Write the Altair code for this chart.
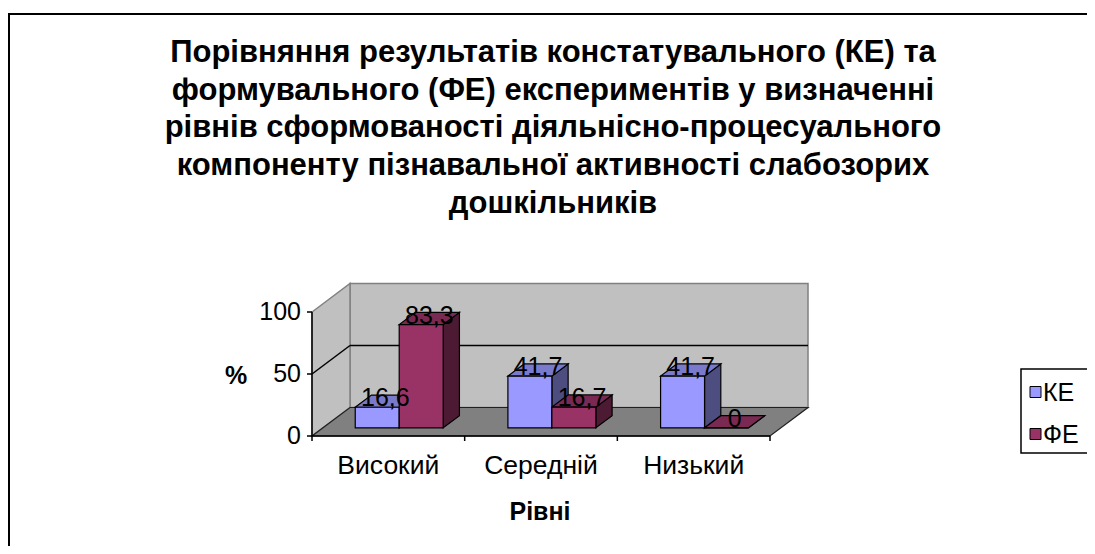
import altair as alt
import pandas as pd

# ---------------- data ----------------
categories = ["Високий", "Середній", "Низький"]
series = ["КЕ", "ФЕ"]
ke_values = [16.6, 41.7, 41.7]
fe_values = [83.3, 16.7, 0]
y_ticks = [0, 50, 100]
title_lines = [
    "Порівняння результатів констатувального (КЕ) та",
    "формувального (ФЕ) експериментів у визначенні",
    "рівнів сформованості діяльнісно-процесуального",
    "компоненту пізнавальної активності слабозорих",
    "дошкільників",
]
x_title = "Рівні"
y_title = "%"

# ---------------- styles / layout ----------------
front_colors = ["#9999FF", "#993366"]
top_colors = ["#7A7ACC", "#7A2952"]
side_colors = ["#4D4D80", "#4D1A33"]
FONT = "Liberation Sans"

W, H = 1079, 538
PX_X = 152.67          # px per category unit
PX_Y = 1.24            # px per value unit
OX, OY = 304, 428      # svg position of (x=0, value=0)
XDOM = [-OX / PX_X, (W - OX) / PX_X]
YDOM = [-(H - OY) / PX_Y, OY / PX_Y]
D = 38 / PX_X          # depth offset in x units
E = 28.5 / PX_Y        # depth offset in value units
GAP, BW = 0.212, 0.288
F0, F1 = 0.286, 0.714
BDX, BDY = (F1 - F0) * D, (F1 - F0) * E
NC = len(categories)

xs = alt.Scale(domain=XDOM, nice=False, zero=False)
ys = alt.Scale(domain=YDOM, nice=False, zero=False)


def X(f):
    return alt.X(f, type="quantitative", scale=xs, axis=None)


def Y(f):
    return alt.Y(f, type="quantitative", scale=ys, axis=None)


values = {series[0]: ke_values, series[1]: fe_values}

fronts, tops, sides, labels = [], [], [], []
for ci, cat in enumerate(categories):
    for si, s in enumerate(series):
        v = values[s][ci]
        x0 = ci + GAP + si * BW + F0 * D
        x1 = x0 + BW
        base = F0 * E
        top = base + v
        pid = f"{ci}-{si}"
        fronts.append(dict(series=s, x0=x0, x1=x1, lo=base, hi=top))
        for xx, lo, hi in [(x0, top, top), (x0 + BDX, top, top + BDY),
                           (x1, top, top + BDY), (x1 + BDX, top + BDY, top + BDY)]:
            tops.append(dict(series=s, pid=pid, x=xx, lo=lo, hi=hi))
        for xx, lo, hi in [(x1, base, top), (x1 + BDX, base + BDY, top + BDY)]:
            sides.append(dict(series=s, pid=pid, x=xx, lo=lo, hi=hi))
        lab = f"{v}".replace(".", ",") if v != 0 else "0"
        labels.append(dict(series=s, x=(x0 + x1) / 2 + BDX / 2, y=top, label=lab))

fronts = pd.DataFrame(fronts)
tops = pd.DataFrame(tops)
sides = pd.DataFrame(sides)
labels = pd.DataFrame(labels)

one = alt.Data(values=[{}])

# walls & floor
back_wall = alt.Chart(pd.DataFrame([dict(x0=D, x1=NC + D, lo=E, hi=100 + E)])).mark_rect(
    fill="#C0C0C0", stroke="#808080", strokeWidth=1.5
).encode(x=X("x0"), x2="x1", y=Y("lo"), y2="hi")

left_wall = alt.Chart(pd.DataFrame([dict(x=0, lo=0, hi=100), dict(x=D, lo=E, hi=100 + E)])).mark_area(
    fill="#C0C0C0", stroke="#808080", strokeWidth=1.5, orient="vertical"
).encode(x=X("x"), y=Y("lo"), y2="hi")

floor = alt.Chart(pd.DataFrame([
    dict(x=0, lo=0, hi=0), dict(x=D, lo=0, hi=E),
    dict(x=NC, lo=0, hi=E), dict(x=NC + D, lo=E, hi=E)])).mark_area(
    fill="#808080", stroke="#202020", strokeWidth=1.2, orient="vertical"
).encode(x=X("x"), y=Y("lo"), y2="hi")

grid_vals = [t for t in y_ticks if 0 < t < max(y_ticks)]
grid_rows = []
for t in grid_vals:
    grid_rows.append(dict(x=0, x2=D, y=t, y2=t + E))
    grid_rows.append(dict(x=D, x2=NC + D, y=t + E, y2=t + E))
grid = alt.Chart(pd.DataFrame(grid_rows)).mark_rule(color="black", strokeWidth=1.5).encode(
    x=X("x"), x2="x2", y=Y("y"), y2="y2")

# axes
y_axis_line = alt.Chart(pd.DataFrame([dict(x=0, y=0, y2=max(y_ticks))])).mark_rule(
    color="black", strokeWidth=1.5).encode(x=X("x"), y=Y("y"), y2="y2")
x_axis_line = alt.Chart(pd.DataFrame([dict(x=0, x2=NC, y=0)])).mark_rule(
    color="black", strokeWidth=1.5).encode(x=X("x"), x2="x2", y=Y("y"))
TLX = 5 / PX_X
TLY = 5 / PX_Y
y_tick_marks = alt.Chart(pd.DataFrame([dict(x=-TLX, x2=0, y=t) for t in y_ticks])).mark_rule(
    color="black", strokeWidth=1.5).encode(x=X("x"), x2="x2", y=Y("y"))
x_tick_marks = alt.Chart(pd.DataFrame([dict(x=i, y=0, y2=-TLY) for i in range(NC + 1)])).mark_rule(
    color="black", strokeWidth=1.5).encode(x=X("x"), y=Y("y"), y2="y2")
y_tick_labels = alt.Chart(pd.DataFrame([dict(x=0, y=t, t=str(t)) for t in y_ticks])).mark_text(
    font=FONT, fontSize=25, align="right", baseline="middle", dx=-11, color="black"
).encode(x=X("x"), y=Y("y"), text="t:N")
x_tick_labels = alt.Chart(pd.DataFrame([dict(x=i + 0.5, y=0, t=c) for i, c in enumerate(categories)])).mark_text(
    font=FONT, fontSize=26.5, align="center", baseline="middle", dy=30, color="black"
).encode(x=X("x"), y=Y("y"), text="t:N")

# bars
side_layer = alt.Chart(sides).mark_area(stroke="black", strokeWidth=1.2, orient="vertical").encode(
    x=X("x"), y=Y("lo"), y2="hi",
    fill=alt.Fill("series:N", scale=alt.Scale(domain=series, range=side_colors), legend=None),
    detail="pid:N")
top_layer = alt.Chart(tops).mark_area(stroke="black", strokeWidth=1.2, orient="vertical").encode(
    x=X("x"), y=Y("lo"), y2="hi",
    color=alt.Color("series:N", scale=alt.Scale(domain=series, range=top_colors), legend=None),
    detail="pid:N")
front_layer = alt.Chart(fronts).mark_rect(stroke="black", strokeWidth=1.2).encode(
    x=X("x0"), x2="x1", y=Y("lo"), y2="hi",
    stroke=alt.value("black"),
    opacity=alt.value(1),
    size=alt.value(1),
).encode(
    fill=alt.Fill("series:N", scale=alt.Scale(domain=series, range=front_colors), legend=None))
value_labels = alt.Chart(labels).mark_text(
    font=FONT, fontSize=25, align="center", baseline="alphabetic", dy=-1, color="black"
).encode(x=X("x"), y=Y("y"), text="label:N")

# legend (manual, Excel-like box)
legend_box = alt.Chart(one).mark_rect(fill="white", stroke="black", strokeWidth=1.5).encode(
    x=alt.value(1013), x2=alt.value(1200), y=alt.value(361), y2=alt.value(445))
legend_layers = [legend_box]
for i, s in enumerate(series):
    cy = 384 + i * 42
    legend_layers.append(alt.Chart(one).mark_rect(stroke="black", strokeWidth=1).encode(
        x=alt.value(1022), x2=alt.value(1033), y=alt.value(cy - 5.5), y2=alt.value(cy + 5.5),
        fill=alt.value(front_colors[i])))
    legend_layers.append(alt.Chart(one).mark_text(
        font=FONT, fontSize=25, align="left", baseline="middle", color="black").encode(
        x=alt.value(1035), y=alt.value(cy + 1), text=alt.value(s)))

# texts
title = alt.Chart(one).mark_text(
    font=FONT, fontSize=31, fontWeight="bold", align="center", baseline="alphabetic",
    lineHeight=37.7, color="black"
).encode(x=alt.value(545), y=alt.value(54), text=alt.value(title_lines))
ytitle = alt.Chart(one).mark_text(
    font=FONT, fontSize=25, fontWeight="bold", align="center", baseline="middle", color="black"
).encode(x=alt.value(228), y=alt.value(368), text=alt.value(y_title))
xtitle = alt.Chart(one).mark_text(
    font=FONT, fontSize=25, fontWeight="bold", align="center", baseline="middle", color="black"
).encode(x=alt.value(532), y=alt.value(504), text=alt.value(x_title))
border = alt.Chart(one).mark_rect(fill=None, stroke="black", strokeWidth=2).encode(
    x=alt.value(1), x2=alt.value(1300), y=alt.value(6), y2=alt.value(800))

chart = alt.layer(
    border, back_wall, left_wall, floor, grid, y_axis_line, x_axis_line,
    y_tick_marks, x_tick_marks, y_tick_labels, x_tick_labels,
    side_layer, top_layer, front_layer, value_labels,
    title, ytitle, xtitle, *legend_layers,
).resolve_scale(fill="independent", color="independent").properties(
    width=W, height=H, autosize="none", padding=0
).configure_view(stroke=None)

chart.save("out.html", embed_options={"renderer": "svg", "actions": False})
